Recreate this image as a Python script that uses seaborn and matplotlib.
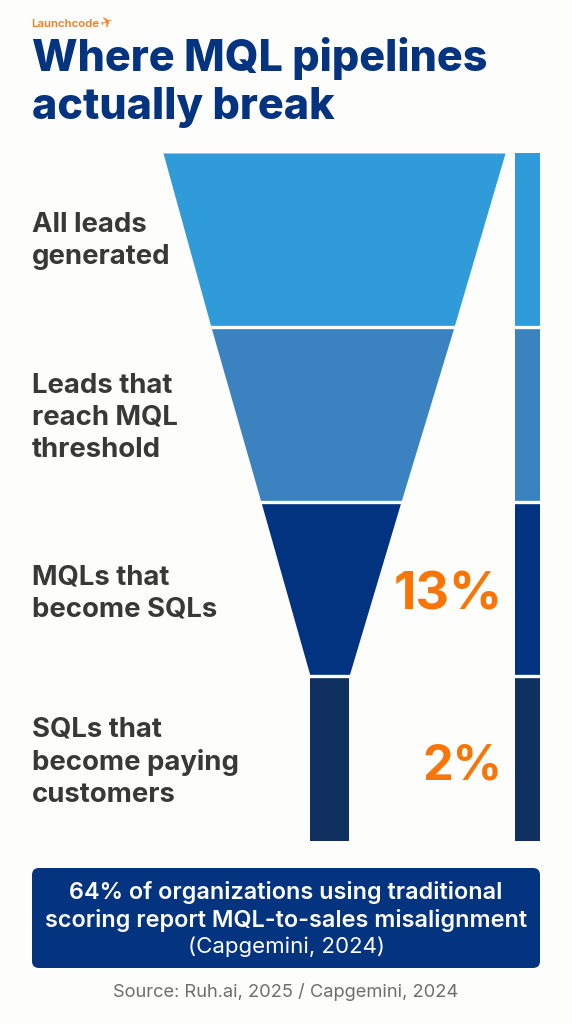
import matplotlib
matplotlib.use("Agg")
import matplotlib.pyplot as plt
import seaborn as sns
from matplotlib.patches import FancyBboxPatch

# --- data ---
stages = ["All leads\ngenerated", "Leads that\nreach MQL\nthreshold", "MQLs that\nbecome SQLs", "SQLs that\nbecome paying\ncustomers"]
top_width = [100, 71, 41, 11.4]
bottom_width = [71, 41, 11.4, 11.4]
top_centre = [0, -0.45, -0.9, -1.3]
bottom_centre = [-0.45, -0.9, -1.3, -1.3]
stage_height = [174, 174, 174, 165]
callouts = ["", "", "13%", "2%"]
colors = ["#2F9BD9", "#3A82C0", "#023380", "#10305F"]
title_lines = ["Where MQL pipelines", "actually break"]
note_bold = ["64% of organizations using traditional", "scoring report MQL-to-sales misalignment"]
note_light = "(Capgemini, 2024)"
source = "Source: Ruh.ai, 2025 / Capgemini, 2024"
brand = "Launchcode"

sns.set_theme(style="white")
plt.rcParams["font.family"] = ["Inter", "DejaVu Sans"]
BG = "#FDFDFB"
W, H = 572, 1024
fig = plt.figure(figsize=(W / 100, H / 100), dpi=100, facecolor=BG)
palette = sns.color_palette(colors)

# page layer in pixels, used only for text placement
page = fig.add_axes([0, 0, 1, 1], zorder=3)
page.set_xlim(0, W); page.set_ylim(H, 0); page.axis("off")

# funnel axes: x = % width around the centre, y = cumulative stage height
F_TOP, F_BOT = 153, 841
fx = fig.add_axes([0, 1 - F_BOT / H, 1, (F_BOT - F_TOP) / H], zorder=1, facecolor="none")
scale = 3.42
centre = 334
fx.set_xlim(-centre / scale, (W - centre) / scale)
fx.set_ylim(sum(stage_height), 0)
fx.axis("off")

y = 0
bar_left = (515 - centre) / scale
bar_w = 25 / scale
for i, h in enumerate(stage_height):
    y0, y1 = y, y + h
    fx.fill_betweenx([y0, y1],
                     [top_centre[i] - top_width[i] / 2, bottom_centre[i] - bottom_width[i] / 2],
                     [top_centre[i] + top_width[i] / 2, bottom_centre[i] + bottom_width[i] / 2],
                     color=palette[i], lw=0)
    fx.barh((y0 + y1) / 2, bar_w, height=h, left=bar_left, color=palette[i], lw=0)
    if i < len(stage_height) - 1:
        fx.axhline(y1, color=BG, lw=2.4, zorder=4)
    y = y1

# stage labels
label_y = [241, 418, 594, 762]
for s, ly in zip(stages, label_y):
    page.text(32, ly, s, fontsize=19.8, fontweight="bold", color="#383838",
              va="center", ha="left", linespacing=1.3)

# callouts
for c, ly, fs, rx in zip(callouts, [0, 0, 596, 767], [0, 0, 37.5, 35], [0, 0, 503, 502]):
    if c:
        page.text(rx, ly, c, fontsize=fs, fontweight="bold", color="#F97508",
                  ha="right", va="center")

# header
page.text(31, 24, brand, fontsize=8.2, fontweight="semibold", color="#F47B20", va="center")
page.text(98, 23, "\u2708", fontsize=10.5, color="#F47B20", va="center", ha="left",
          family=["DejaVu Sans"], rotation=20)
for t, ly in zip(title_lines, [58, 107]):
    page.text(32, ly, t, fontsize=31, fontweight="heavy", color="#04337F", va="center")

# note box
page.add_patch(FancyBboxPatch((36, 872), 500, 92, boxstyle="round,pad=4,rounding_size=7",
                              fc="#04337F", ec="none"))
for t, ly in zip(note_bold, [893, 920]):
    page.text(286, ly, t, fontsize=16.85, fontweight="semibold", color="white", ha="center", va="center")
page.text(286, 947, note_light, fontsize=16, color="white", ha="center", va="center")
page.text(286, 992, source, fontsize=13.2, color="#6E6E6E", ha="center", va="center")

fig.savefig("out.png", dpi=100, facecolor=BG)
